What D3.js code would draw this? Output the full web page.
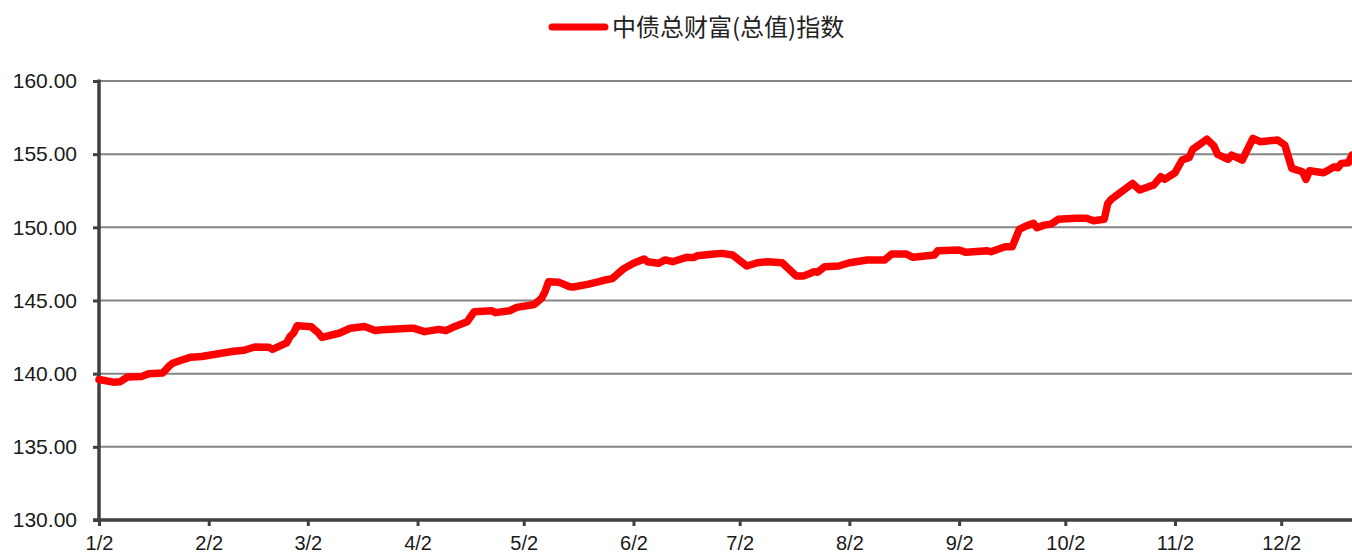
<!DOCTYPE html>
<html>
<head>
<meta charset="utf-8">
<script src="https://cdn.jsdelivr.net/npm/d3@7"></script>
<style>
  html, body { margin: 0; padding: 0; background: #fff; }
  svg { display: block; }
</style>
</head>
<body>
<svg id="chart" width="1352" height="556"></svg>
<script>
const seriesName = "中债总财富(总值)指数";
const dates = [
  "2014-01-02","2014-01-06","2014-01-08","2014-01-10","2014-01-14","2014-01-16","2014-01-20","2014-01-22","2014-01-23","2014-01-25",
  "2014-01-28","2014-01-31","2014-02-09","2014-02-12","2014-02-15","2014-02-19","2014-02-20","2014-02-24","2014-02-25","2014-02-26",
  "2014-02-27","2014-03-03","2014-03-05","2014-03-06","2014-03-11","2014-03-14","2014-03-18","2014-03-21","2014-03-23","2014-03-31",
  "2014-04-01","2014-04-04","2014-04-08","2014-04-10","2014-04-12","2014-04-16","2014-04-18","2014-04-23","2014-04-24","2014-04-28",
  "2014-04-30","2014-05-05","2014-05-07","2014-05-08","2014-05-09","2014-05-12","2014-05-15","2014-05-16","2014-05-20","2014-05-23",
  "2014-05-25","2014-05-27","2014-05-30","2014-06-02","2014-06-05","2014-06-06","2014-06-09","2014-06-11","2014-06-13","2014-06-17",
  "2014-06-19","2014-06-20","2014-06-24","2014-06-27","2014-06-30","2014-07-04","2014-07-07","2014-07-10","2014-07-12","2014-07-14",
  "2014-07-18","2014-07-20","2014-07-22","2014-07-23","2014-07-24","2014-07-26","2014-07-30","2014-08-02","2014-08-07","2014-08-12",
  "2014-08-14","2014-08-18","2014-08-20","2014-08-26","2014-08-27","2014-09-02","2014-09-04","2014-09-10","2014-09-11","2014-09-15",
  "2014-09-17","2014-09-19","2014-09-21","2014-09-23","2014-09-24","2014-09-26","2014-09-28","2014-09-30","2014-10-05","2014-10-08",
  "2014-10-10","2014-10-13","2014-10-14","2014-10-15","2014-10-21","2014-10-23","2014-10-27","2014-10-29","2014-10-30","2014-11-02",
  "2014-11-04","2014-11-06","2014-11-07","2014-11-11","2014-11-13","2014-11-14","2014-11-17","2014-11-18","2014-11-21","2014-11-24",
  "2014-11-26","2014-12-01","2014-12-03","2014-12-04","2014-12-05","2014-12-08","2014-12-09","2014-12-10","2014-12-14","2014-12-17",
  "2014-12-18","2014-12-19","2014-12-21","2014-12-22"
];
const values = [
  139.60,139.42,139.45,139.77,139.80,140.00,140.05,140.57,140.73,140.90,
  141.13,141.17,141.53,141.60,141.82,141.80,141.66,142.10,142.55,142.78,
  143.28,143.20,142.78,142.48,142.78,143.10,143.22,142.95,143.00,143.10,
  143.10,142.87,143.03,142.94,143.17,143.55,144.23,144.30,144.17,144.30,
  144.53,144.73,145.14,145.60,146.28,146.24,145.94,145.92,146.10,146.28,
  146.40,146.50,147.13,147.54,147.84,147.65,147.54,147.77,147.65,147.95,
  147.93,148.06,148.16,148.22,148.11,147.36,147.58,147.65,147.62,147.58,
  146.67,146.67,146.86,146.97,146.93,147.30,147.36,147.58,147.77,147.77,
  148.18,148.18,147.95,148.11,148.40,148.45,148.29,148.40,148.33,148.67,
  148.67,149.86,150.10,150.27,149.97,150.15,150.22,150.55,150.62,150.62,
  150.45,150.55,151.64,151.92,153.00,152.55,152.90,153.46,153.28,153.73,
  154.60,154.78,155.33,156.02,155.56,154.99,154.65,154.94,154.60,156.08,
  155.85,155.97,155.63,154.83,154.03,153.80,153.28,153.87,153.73,154.14,
  154.07,154.37,154.42,154.94
];
const yTicks = [130, 135, 140, 145, 150, 155, 160];
const xTickDates = ["2014-01-02","2014-02-02","2014-03-02","2014-04-02","2014-05-02","2014-06-02",
                    "2014-07-02","2014-08-02","2014-09-02","2014-10-02","2014-11-02","2014-12-02"];
const xDomain = ["2014-01-02", "2014-12-22"];
const yDomain = [130, 160];

(function () {
const parse = d3.timeParse("%Y-%m-%d");
const data = dates.map((d, i) => ({ date: parse(d), value: values[i] }));

const W = 1352;
const mLeft = 99, mRight = 1352, mTop = 81, mBottom = 520;
const svg = d3.select("#chart");

const x = d3.scaleTime().domain(xDomain.map(parse)).range([mLeft, mRight]);
const y = d3.scaleLinear().domain(yDomain).range([mBottom, mTop]);

const font = "'Liberation Sans', Arial, sans-serif";

// gridlines
svg.append("g").selectAll("line")
  .data(yTicks.filter(t => t > yDomain[0]))
  .join("line")
  .attr("x1", mLeft).attr("x2", W)
  .attr("y1", d => y(d)).attr("y2", d => y(d))
  .attr("stroke", "#858585").attr("stroke-width", 2);

// y axis
const yAxis = d3.axisLeft(y).tickValues(yTicks).tickFormat(d3.format(".2f")).tickSize(6).tickPadding(16);
const gy = svg.append("g").attr("transform", `translate(${mLeft},0)`).call(yAxis);
gy.select(".domain").remove();
gy.selectAll(".tick line").attr("stroke", "#404040").attr("stroke-width", 3);
gy.selectAll(".tick text").attr("font-family", font).attr("font-size", 21).attr("fill", "#1a1a1a");
svg.append("line").attr("x1", mLeft).attr("x2", mLeft).attr("y1", mTop - 1.5).attr("y2", mBottom + 1.5)
  .attr("stroke", "#404040").attr("stroke-width", 3.5);

// x axis
const xAxis = d3.axisBottom(x).tickValues(xTickDates.map(parse)).tickFormat(d3.timeFormat("%-m/%-d")).tickSize(6).tickPadding(10);
const gx = svg.append("g").attr("transform", `translate(0,${mBottom})`).call(xAxis);
gx.select(".domain").remove();
gx.selectAll(".tick line").attr("stroke", "#404040").attr("stroke-width", 3);
gx.selectAll(".tick text").attr("font-family", font).attr("font-size", 20).attr("fill", "#1a1a1a");
svg.append("line").attr("x1", mLeft - 6).attr("x2", W).attr("y1", mBottom).attr("y2", mBottom)
  .attr("stroke", "#404040").attr("stroke-width", 3.5);

// series line
const line = d3.line().x(d => x(d.date)).y(d => y(d.value)).curve(d3.curveLinear);
svg.append("path").datum(data)
  .attr("d", line)
  .attr("fill", "none").attr("stroke", "#ff0000").attr("stroke-width", 7.5)
  .attr("stroke-linejoin", "round").attr("stroke-linecap", "round");

// legend
const lg = svg.append("g");
lg.append("line").attr("x1", 552).attr("x2", 605).attr("y1", 27).attr("y2", 27)
  .attr("stroke", "#ff0000").attr("stroke-width", 7).attr("stroke-linecap", "round");
lg.append("text").attr("x", 612).attr("y", 36)
  .attr("font-family", "'Noto Sans CJK SC', sans-serif").attr("font-size", 24).attr("fill", "#222")
  .text(seriesName);
})();
</script>
</body>
</html>
